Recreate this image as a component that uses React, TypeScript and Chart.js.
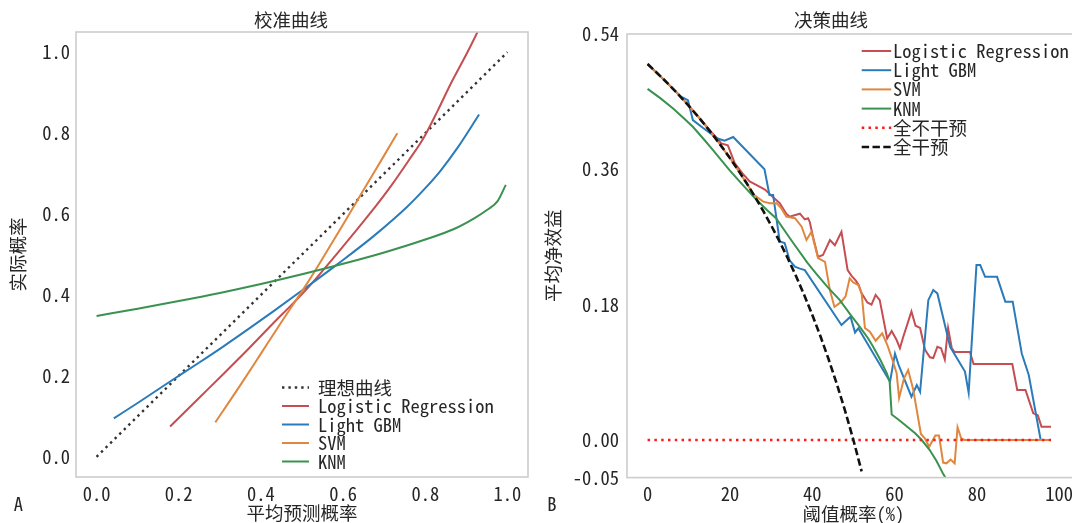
import React, { useEffect, useRef } from "react";
import { Chart, registerables } from "chart.js";

Chart.register(...registerables);

type Pt = [number, number];

const FONT = '"Noto Sans Mono CJK SC", "Noto Sans CJK SC", "Noto Sans", sans-serif';
const FS = 18.5;
const INK = "#262626";

const RED = "#c44e52";
const BLUE = "#2b7bba";
const ORANGE = "#e0873f";
const GREEN = "#3a9250";

// ---------- Panel A: calibration curves ----------
const CAL_TITLE = "校准曲线";
const CAL_X_LABEL = "平均预测概率";
const CAL_Y_LABEL = "实际概率";
const CAL_TICKS = [0, 0.2, 0.4, 0.6, 0.8, 1.0];
const CAL_LEGEND = ["理想曲线", "Logistic Regression", "Light GBM", "SVM", "KNM"];

const IDEAL_CAL: Pt[] = [[0, 0], [1, 1]];
const LR_CAL: Pt[] = [
  [0.179, 0.075], [0.25, 0.146], [0.31, 0.206], [0.37, 0.267], [0.43, 0.33], [0.48, 0.381],
  [0.512, 0.415], [0.553, 0.463], [0.6, 0.52], [0.634, 0.562], [0.68, 0.62], [0.715, 0.667],
  [0.76, 0.733], [0.797, 0.79], [0.83, 0.855], [0.862, 0.922], [0.9, 0.995], [0.927, 1.05], [0.94, 1.08],
];
const GBM_CAL: Pt[] = [
  [0.042, 0.095], [0.1, 0.133], [0.179, 0.186], [0.25, 0.233], [0.309, 0.273], [0.37, 0.316],
  [0.431, 0.36], [0.504, 0.414], [0.585, 0.475], [0.675, 0.546], [0.756, 0.618], [0.8, 0.664],
  [0.837, 0.707], [0.88, 0.766], [0.931, 0.846],
];
const SVM_CAL: Pt[] = [
  [0.289, 0.085], [0.35, 0.177], [0.4, 0.255], [0.45, 0.333], [0.512, 0.428], [0.55, 0.49],
  [0.6, 0.574], [0.65, 0.66], [0.7, 0.745], [0.732, 0.8],
];
const KNM_CAL: Pt[] = [
  [0, 0.348], [0.1, 0.366], [0.2, 0.385], [0.3, 0.405], [0.4, 0.427], [0.5, 0.451], [0.6, 0.477],
  [0.7, 0.505], [0.8, 0.537], [0.87, 0.563], [0.92, 0.59], [0.95, 0.61], [0.976, 0.632], [0.996, 0.672],
];

// ---------- Panel B: decision curves ----------
const DCA_TITLE = "决策曲线";
const DCA_X_LABEL = "阈值概率(%)";
const DCA_Y_LABEL = "平均净效益";
const DCA_X_TICKS = [0, 20, 40, 60, 80, 100];
const DCA_Y_TICKS = [-0.05, 0, 0.18, 0.36, 0.54];
const DCA_LEGEND = ["Logistic Regression", "Light GBM", "SVM", "KNM", "全不干预", "全干预"];

const LR_DCA: Pt[] = [
  [0, 0.5], [4, 0.479], [8, 0.457], [12, 0.432], [15.4, 0.41], [17.1, 0.4], [17.9, 0.3945], [19.5, 0.392],
  [21.2, 0.368], [23, 0.355], [24.8, 0.344], [26.5, 0.339], [28.5, 0.333], [30.9, 0.321], [32.1, 0.315],
  [33.7, 0.301], [34.5, 0.297], [37, 0.301], [38.2, 0.2935], [39, 0.295], [39.4, 0.29], [40.2, 0.27],
  [41.4, 0.2436], [42.6, 0.246], [44.3, 0.266], [45.5, 0.259], [47.1, 0.277], [48.6, 0.226], [49.6, 0.218],
  [50.6, 0.212], [51.3, 0.206], [52, 0.195], [53.4, 0.183], [54.4, 0.18], [55.4, 0.193], [56.4, 0.186],
  [58.2, 0.135], [59.3, 0.145], [60.5, 0.133], [61.3, 0.122], [62.1, 0.137], [64.1, 0.171], [65.1, 0.152],
  [66.2, 0.149], [67.4, 0.12], [68.6, 0.11], [69.4, 0.109], [70.4, 0.124], [71.3, 0.122], [72.2, 0.107],
  [73, 0.149], [73.9, 0.122], [74.6, 0.117], [78.3, 0.117], [79.2, 0.101], [88.6, 0.101], [89.8, 0.0665],
  [91.8, 0.0665], [93.7, 0.0355], [94.8, 0.033], [95.7, 0.0177], [98, 0.0177],
];
const GBM_DCA: Pt[] = [
  [0, 0.5], [4, 0.479], [8, 0.457], [9.8, 0.452], [11, 0.4255], [13.5, 0.415], [17, 0.401], [18.7, 0.398],
  [20.8, 0.403], [28.4, 0.36], [29.6, 0.326], [30.5, 0.326], [32.1, 0.264], [33.3, 0.262], [34.5, 0.239],
  [35.8, 0.2305], [37, 0.228], [38.2, 0.226], [47.1, 0.153], [49.3, 0.164], [50.4, 0.143], [51.2, 0.1485],
  [58.9, 0.0775], [60.1, 0.115], [61, 0.0997], [64.1, 0.0576], [65.4, 0.073], [66.2, 0.064], [68.2, 0.186],
  [69.4, 0.1995], [70.4, 0.195], [73.5, 0.124], [77.1, 0.091], [78, 0.063], [79.9, 0.2327], [80.8, 0.2327],
  [82, 0.217], [84.9, 0.217], [86.9, 0.184], [88.7, 0.184], [90.9, 0.115], [92.6, 0.0864], [95.5, 0],
];
const SVM_DCA: Pt[] = [
  [0, 0.5], [4, 0.479], [8, 0.457], [12, 0.432], [16, 0.405], [20, 0.375], [24, 0.342], [25.8, 0.326],
  [28.1, 0.317], [29.7, 0.315], [31.3, 0.315], [32.5, 0.308], [33.7, 0.297], [35.8, 0.295], [37.4, 0.284],
  [38.6, 0.266], [39.8, 0.277], [41.4, 0.242], [43.1, 0.237], [44.3, 0.199], [45.4, 0.177], [47.1, 0.184],
  [48.1, 0.191], [49.1, 0.215], [49.9, 0.21], [51.2, 0.206], [52, 0.195], [52.8, 0.149], [54, 0.144],
  [55.4, 0.132], [57, 0.142], [58.2, 0.127], [59.4, 0.108], [60.5, 0.089], [61.1, 0.056], [62.3, 0.082],
  [63.3, 0.093], [64.5, 0.068], [66.4, 0.008], [67.4, 0.002], [68.4, -0.009], [69.9, 0.006], [70.8, 0.006],
  [71.8, -0.03], [72.6, -0.031], [73.6, -0.026], [74.6, -0.031], [75.3, 0.017], [76.2, 0.002], [77, 0], [98, 0],
];
const KNM_DCA: Pt[] = [
  [0, 0.467], [3, 0.455], [6.2, 0.441], [9, 0.427], [11, 0.4166], [13.5, 0.401], [15.9, 0.3856], [19.9, 0.359],
  [22.5, 0.343], [26, 0.322], [29, 0.306], [31.2, 0.295], [35, 0.265], [38.8, 0.236], [41, 0.221], [43.8, 0.203],
  [46.7, 0.186], [49.5, 0.165], [51.2, 0.153], [53.6, 0.135], [54.8, 0.124], [56.5, 0.107], [58.1, 0.089],
  [58.8, 0.078], [59.3, 0.034], [61, 0.027], [63, 0.018], [65, 0.009], [66.6, 0], [68.5, -0.013],
  [70.2, -0.028], [71.8, -0.045], [72.8, -0.054],
];
const NONE_DCA: Pt[] = [[0, 0], [98, 0]];
const ALL_DCA: Pt[] = [
  [0, 0.5], [2, 0.4898], [4, 0.4792], [6, 0.4681], [8, 0.4565], [10, 0.4444], [12, 0.4318], [14, 0.4186],
  [16, 0.4048], [18, 0.3902], [20, 0.375], [22, 0.359], [24, 0.3421], [26, 0.3243], [28, 0.3056], [30, 0.2857],
  [32, 0.2647], [34, 0.2424], [36, 0.2188], [38, 0.1935], [40, 0.1667], [42, 0.1379], [44, 0.1071],
  [46, 0.0741], [48, 0.0385], [50, 0], [52, -0.0417],
];

const toXY = (p: Pt[]) => p.map(([x, y]) => ({ x, y }));

type Decor = {
  title: string;
  titleX: number;
  titleY: number;
  legX1: number;
  legX2: number;
  legTextX: number;
  legY0: number;
  legDy: number;
  letter: string;
  letterX: number;
  letterY: number;
};

function decorPlugin(id: string, d: Decor) {
  return {
    id,
    afterDatasetsDraw(chart: any) {
      const { ctx, chartArea: a } = chart;
      ctx.save();
      ctx.strokeStyle = "#cccccc";
      ctx.lineWidth = 1.6;
      ctx.setLineDash([]);
      ctx.strokeRect(a.left, a.top, a.right - a.left, a.bottom - a.top);
      ctx.restore();
    },
    afterDraw(chart: any) {
      const { ctx } = chart;
      ctx.save();
      ctx.font = `${FS}px ${FONT}`;
      ctx.fillStyle = INK;
      ctx.textBaseline = "middle";
      ctx.textAlign = "center";
      ctx.fillText(d.title, d.titleX, d.titleY);
      ctx.fillText(d.letter, d.letterX, d.letterY);
      ctx.textAlign = "left";
      chart.data.datasets.forEach((ds: any, i: number) => {
        const y = d.legY0 + i * d.legDy;
        ctx.beginPath();
        ctx.strokeStyle = ds.borderColor;
        ctx.lineWidth = ds.borderWidth;
        ctx.setLineDash(ds.borderDash || []);
        ctx.lineCap = "butt";
        ctx.moveTo(d.legX1, y);
        ctx.lineTo(d.legX2, y);
        ctx.stroke();
        ctx.setLineDash([]);
        ctx.fillStyle = INK;
        ctx.fillText(ds.label, d.legTextX, y);
      });
      ctx.restore();
    },
  };
}

const tickFont = { family: FONT, size: FS };
const titleFont = { family: FONT, size: FS, lineHeight: 1 };

export default function App() {
  const leftRef = useRef<HTMLCanvasElement | null>(null);
  const rightRef = useRef<HTMLCanvasElement | null>(null);

  useEffect(() => {
    const lc = leftRef.current!;
    const rc = rightRef.current!;

    const left = new Chart(lc, {
      type: "line",
      data: {
        datasets: [
          { label: CAL_LEGEND[0], data: toXY(IDEAL_CAL), borderColor: "#333333", borderWidth: 2.4, borderDash: [2.4, 4], order: 5 },
          { label: CAL_LEGEND[1], data: toXY(LR_CAL), borderColor: RED, borderWidth: 2, cubicInterpolationMode: "monotone", order: 4 },
          { label: CAL_LEGEND[2], data: toXY(GBM_CAL), borderColor: BLUE, borderWidth: 2, cubicInterpolationMode: "monotone", order: 3 },
          { label: CAL_LEGEND[3], data: toXY(SVM_CAL), borderColor: ORANGE, borderWidth: 2, cubicInterpolationMode: "monotone", order: 2 },
          { label: CAL_LEGEND[4], data: toXY(KNM_CAL), borderColor: GREEN, borderWidth: 2, cubicInterpolationMode: "monotone", order: 1 },
        ] as any,
      },
      options: {
        animation: false,
        responsive: false,
        devicePixelRatio: 1,
        layout: { padding: { left: 0, right: 12, top: 32, bottom: 0 } },
        elements: { point: { radius: 0 }, line: { fill: false } },
        plugins: { legend: { display: false }, tooltip: { enabled: false }, title: { display: false } },
        scales: {
          x: {
            type: "linear",
            min: -0.05,
            max: 1.05,
            grid: { display: false, drawTicks: false },
            border: { display: false },
            afterBuildTicks: (s: any) => { s.ticks = CAL_TICKS.map((v) => ({ value: v })); },
            afterFit: (s: any) => { s.height = 46; },
            ticks: { padding: 6, color: INK, font: tickFont, maxRotation: 0, autoSkip: false, callback: (v: any) => Number(v).toFixed(1) },
            title: { display: true, text: CAL_X_LABEL, color: INK, font: titleFont, padding: { top: 0, bottom: 1 } },
          },
          y: {
            type: "linear",
            min: -0.05,
            max: 1.05,
            grid: { display: false, drawTicks: false },
            border: { display: false },
            afterBuildTicks: (s: any) => { s.ticks = CAL_TICKS.map((v) => ({ value: v })); },
            afterFit: (s: any) => { s.width = 76; },
            ticks: { padding: 6, color: INK, font: tickFont, autoSkip: false, callback: (v: any) => Number(v).toFixed(1) },
            title: { display: true, text: CAL_Y_LABEL, color: INK, font: titleFont, padding: { top: 8.75, bottom: 0 } },
          },
        },
      } as any,
      plugins: [
        decorPlugin("decorA", {
          title: CAL_TITLE, titleX: 291, titleY: 20,
          legX1: 282, legX2: 309, legTextX: 318, legY0: 387.5, legDy: 18.5,
          letter: "A", letterX: 18.5, letterY: 504,
        }),
      ],
    });

    const right = new Chart(rc, {
      type: "line",
      data: {
        datasets: [
          { label: DCA_LEGEND[0], data: toXY(LR_DCA), borderColor: RED, borderWidth: 2, order: 6 },
          { label: DCA_LEGEND[1], data: toXY(GBM_DCA), borderColor: BLUE, borderWidth: 2, order: 5 },
          { label: DCA_LEGEND[2], data: toXY(SVM_DCA), borderColor: ORANGE, borderWidth: 2, order: 4 },
          { label: DCA_LEGEND[3], data: toXY(KNM_DCA), borderColor: GREEN, borderWidth: 2, order: 3 },
          { label: DCA_LEGEND[4], data: toXY(NONE_DCA), borderColor: "#ff1a1a", borderWidth: 2.5, borderDash: [2.5, 4.3], order: 2 },
          { label: DCA_LEGEND[5], data: toXY(ALL_DCA), borderColor: "#111111", borderWidth: 2.6, borderDash: [7.4, 3.4], order: 1 },
        ] as any,
      },
      options: {
        animation: false,
        responsive: false,
        devicePixelRatio: 1,
        layout: { padding: { left: 0, right: 5.2, top: 34, bottom: 0 } },
        elements: { point: { radius: 0 }, line: { fill: false, tension: 0 } },
        plugins: { legend: { display: false }, tooltip: { enabled: false }, title: { display: false } },
        scales: {
          x: {
            type: "linear",
            min: -5,
            max: 105,
            grid: { display: false, drawTicks: false },
            border: { display: false },
            afterBuildTicks: (s: any) => { s.ticks = DCA_X_TICKS.map((v) => ({ value: v })); },
            afterFit: (s: any) => { s.height = 45.4; },
            ticks: { padding: 5.3, color: INK, font: tickFont, maxRotation: 0, autoSkip: false, callback: (v: any) => String(v) },
            title: { display: true, text: DCA_X_LABEL, color: INK, font: titleFont, padding: { top: 0, bottom: 0 } },
          },
          y: {
            type: "linear",
            min: -0.05,
            max: 0.54,
            grid: { display: false, drawTicks: false },
            border: { display: false },
            afterBuildTicks: (s: any) => { s.ticks = DCA_Y_TICKS.map((v) => ({ value: v })); },
            afterFit: (s: any) => { s.width = 87; },
            ticks: { padding: 8, color: INK, font: tickFont, autoSkip: false, callback: (v: any) => Number(v).toFixed(2) },
            title: { display: true, text: DCA_Y_LABEL, color: INK, font: titleFont, padding: { top: 3.75, bottom: 0 } },
          },
        },
      } as any,
      plugins: [
        decorPlugin("decorB", {
          title: DCA_TITLE, titleX: 291, titleY: 20,
          legX1: 321.7, legX2: 351.2, legTextX: 353, legY0: 51, legDy: 19.2,
          letter: "B", letterX: 12, letterY: 504,
        }),
      ],
    });

    return () => {
      left.destroy();
      right.destroy();
    };
  }, []);

  return (
    <div style={{ position: "absolute", left: 0, top: 0, width: 1072, height: 523, overflow: "hidden", background: "#ffffff" }}>
      <canvas ref={leftRef} width={540} height={523} style={{ position: "absolute", left: 0, top: 0, width: 540, height: 523 }} />
      <canvas ref={rightRef} width={545} height={523} style={{ position: "absolute", left: 540, top: 0, width: 545, height: 523 }} />
    </div>
  );
}
